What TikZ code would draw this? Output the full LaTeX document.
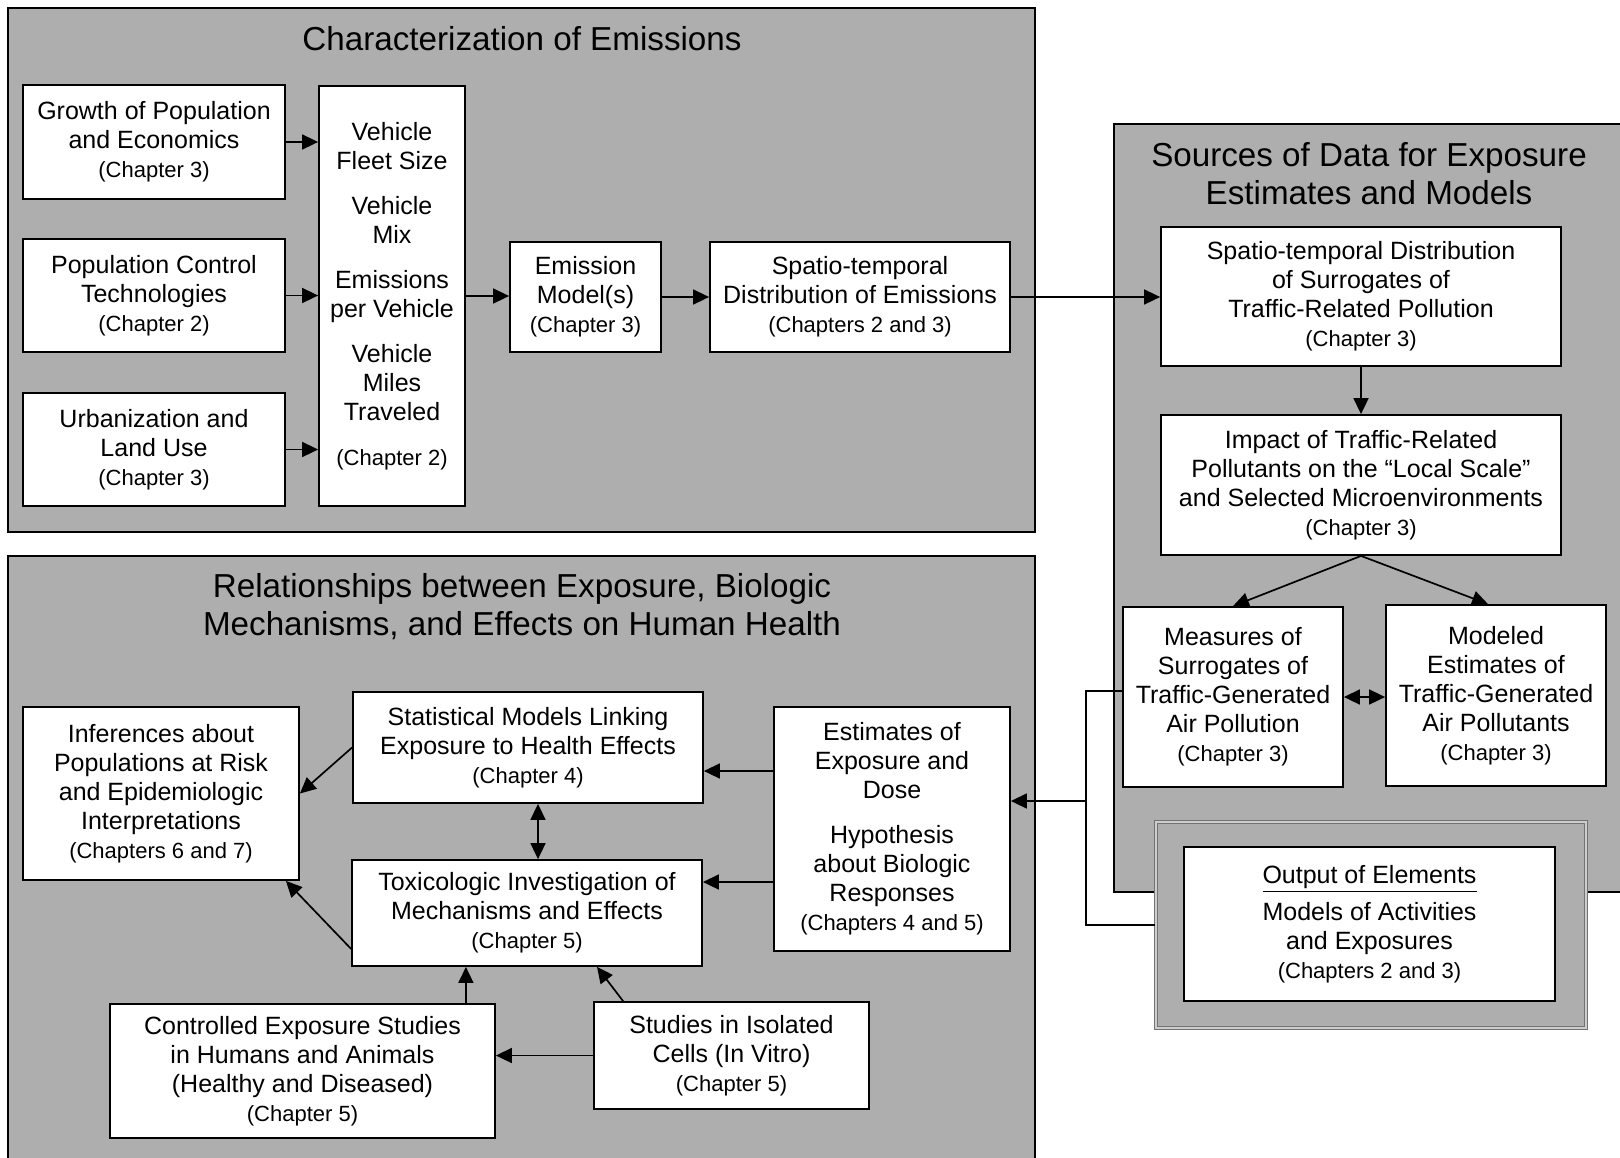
\documentclass[tikz,border=0pt]{standalone}
\usepackage{fontspec}
\setmainfont{Liberation Sans}
\usetikzlibrary{arrows.meta,calc}
\definecolor{panelgray}{RGB}{174,174,174}
\definecolor{framegray}{RGB}{115,115,115}
\definecolor{framelight}{RGB}{205,205,205}
\newcommand{\chp}[1]{{\fontsize{11}{13}\selectfont #1}}
\tikzset{
  panel/.style={draw=black, fill=panelgray, line width=0.9pt, inner sep=0pt},
  box/.style={draw=black, fill=white, line width=0.9pt, inner sep=0pt, align=center,
    font=\fontsize{12.5}{14.5}\selectfont},
  ttl/.style={align=center, font=\fontsize{16.6}{19}\selectfont, inner sep=0pt},
  arr/.style={line width=0.85pt, -{Triangle[length=8pt,width=7.5pt]}},
  darr/.style={line width=0.85pt, {Triangle[length=8pt,width=7.5pt]}-{Triangle[length=8pt,width=7.5pt]}},
  ln/.style={line width=0.85pt},
}
\begin{document}
\begin{tikzpicture}[x=0.5pt,y=-0.5pt]
\clip (0,0) rectangle (1620,1157);
\fill[white] (0,0) rectangle (1620,1157);
% panels
\node[panel, minimum width=513.5pt, minimum height=262pt] (pA) at (521.5,270) {};
\node[panel, minimum width=293pt, minimum height=384pt] (pB) at (1407,508) {};
\node[panel, minimum width=513.5pt, minimum height=322pt] (pC) at (521.5,878) {};
\node[draw=framegray, double=framelight, double distance=0.8pt, line width=0.6pt,
  fill=panelgray, minimum width=215pt, minimum height=103pt, inner sep=0pt] (frm) at (1371,925) {};
% titles
\node[ttl] (tA) at (522,39) {Characterization of Emissions};
\node[ttl] (tB) at (1369,174) {Sources of Data for Exposure\\Estimates and Models};
\node[ttl] (tC) at (522,607) {Relationships between Exposure, Biologic\\Mechanisms, and Effects on Human Health};
% top panel boxes
\node[box, minimum width=131pt, minimum height=57pt] (grow) at (154,142)
  {Growth of Population\\and Economics\\\chp{(Chapter 3)}};
\node[box, minimum width=131pt, minimum height=56.5pt] (pop) at (154,295.5)
  {Population Control\\Technologies\\\chp{(Chapter 2)}};
\node[box, minimum width=131pt, minimum height=56.5pt] (urb) at (154,449.5)
  {Urbanization and\\Land Use\\\chp{(Chapter 3)}};
\node[box, minimum width=73pt, minimum height=210pt] (veh) at (392,296)
  {Vehicle\\Fleet Size\\[8pt]Vehicle\\Mix\\[8pt]Emissions\\per Vehicle\\[8pt]Vehicle\\Miles\\Traveled\\[8pt]\chp{(Chapter 2)}};
\node[box, minimum width=75.5pt, minimum height=55pt] (emm) at (585.5,297)
  {Emission\\Model(s)\\\chp{(Chapter 3)}};
\node[box, minimum width=150pt, minimum height=55pt] (spa) at (860,297)
  {Spatio-temporal\\Distribution of Emissions\\\chp{(Chapters 2 and 3)}};
% right panel boxes
\node[box, minimum width=200pt, minimum height=69.5pt] (sur) at (1361,296.5)
  {Spatio-temporal Distribution\\of Surrogates of\\Traffic-Related Pollution\\\chp{(Chapter 3)}};
\node[box, minimum width=200pt, minimum height=70pt] (imp) at (1361,485)
  {Impact of Traffic-Related\\Pollutants on the “Local Scale”\\and Selected Microenvironments\\\chp{(Chapter 3)}};
\node[box, minimum width=110pt, minimum height=90pt] (meas) at (1233,697)
  {Measures of\\Surrogates of\\Traffic-Generated\\Air Pollution\\\chp{(Chapter 3)}};
\node[box, minimum width=110pt, minimum height=90.5pt] (mod) at (1496,695.5)
  {Modeled\\Estimates of\\Traffic-Generated\\Air Pollutants\\\chp{(Chapter 3)}};
\node[box, minimum width=185.5pt, minimum height=77pt] (outb) at (1369.5,924)
  {\underline{Output of Elements}\\[4pt]Models of Activities\\and Exposures\\\chp{(Chapters 2 and 3)}};
% bottom panel boxes
\node[box, minimum width=138pt, minimum height=86.5pt] (inf) at (161,793.5)
  {Inferences about\\Populations at Risk\\and Epidemiologic\\Interpretations\\\chp{(Chapters 6 and 7)}};
\node[box, minimum width=175pt, minimum height=55.5pt] (stat) at (528,747.5)
  {Statistical Models Linking\\Exposure to Health Effects\\\chp{(Chapter 4)}};
\node[box, minimum width=175pt, minimum height=53pt] (tox) at (527,913)
  {Toxicologic Investigation of\\Mechanisms and Effects\\\chp{(Chapter 5)}};
\node[box, minimum width=118pt, minimum height=122pt] (est) at (892,829)
  {Estimates of\\Exposure and\\Dose\\[8pt]Hypothesis\\about Biologic\\Responses\\\chp{(Chapters 4 and 5)}};
\node[box, minimum width=192.5pt, minimum height=67pt] (ctl) at (302.5,1071)
  {Controlled Exposure Studies\\in Humans and Animals\\(Healthy and Diseased)\\\chp{(Chapter 5)}};
\node[box, minimum width=137.5pt, minimum height=53.5pt] (stu) at (731.5,1055.5)
  {Studies in Isolated\\Cells (In Vitro)\\\chp{(Chapter 5)}};
% connectors top
\draw[arr] (grow.east) -- (grow.east -| veh.west);
\draw[arr] (pop.east) -- (pop.east -| veh.west);
\draw[arr] (urb.east) -- (urb.east -| veh.west);
\draw[arr] (veh.east) -- (veh.east -| emm.west);
\draw[arr] (emm.east) -- (emm.east -| spa.west);
\draw[arr] (spa.east) -- (spa.east -| sur.west);
% right panel
\draw[arr] (sur.south) -- (imp.north);
\draw[arr] (imp.south) -- (meas.north);
\draw[arr] (imp.south) -- ([xshift=-4pt]mod.north);
\draw[darr] (meas.east) -- (meas.east -| mod.west);
\coordinate (jx) at (1086,691);
\coordinate (jb) at (1086,801);
\draw[ln] ([yshift=3pt]meas.west) -- (jx) |- (frm.west);
\draw[arr] (jb) -- (jb -| est.east);
% bottom panel
\coordinate (a1) at ($(stat.east)+(0,23.5)$);
\draw[arr] (a1 -| est.west) -- (a1);
\coordinate (a2) at ($(tox.east)+(0,-31)$);
\draw[arr] (a2 -| est.west) -- (a2);
\coordinate (a3) at ($(stat.south)+(10,0)$);
\draw[darr] (a3) -- (a3 |- tox.north);
\draw[arr] (stat.west) -- (inf.east);
\draw[arr] ($(tox.south west)+(0,-18)$) -- ($(inf.south east)+(-14,0)$);
\coordinate (a4) at ($(ctl.north east)+(-30,0)$);
\draw[arr] (a4) -- (a4 |- tox.south);
\draw[arr] ($(stu.north west)+(30,0)$) -- ($(tox.south)+(70,0)$);
\draw[arr] (stu.west) -- (stu.west -| ctl.east);
\end{tikzpicture}
\end{document}
